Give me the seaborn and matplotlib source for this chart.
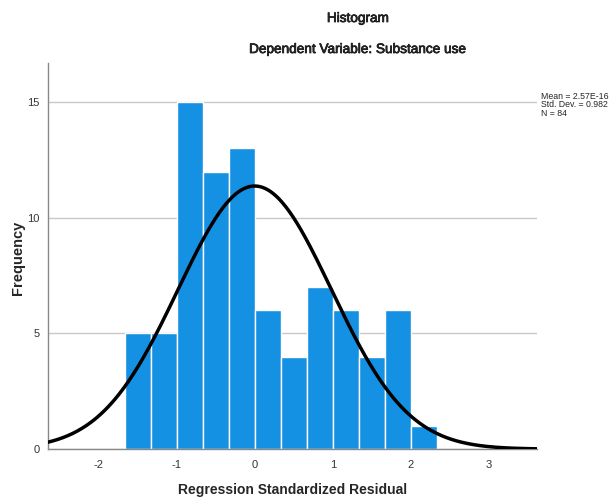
import numpy as np
import pandas as pd
import matplotlib
matplotlib.use("Agg")
import matplotlib.pyplot as plt
import matplotlib.patheffects as pe
import seaborn as sns

# Data
bin_edges = [-5/3, -4/3, -1, -2/3, -1/3, 0, 1/3, 2/3, 1, 4/3, 5/3, 2, 7/3]
counts = [5, 5, 15, 12, 13, 6, 4, 7, 6, 4, 6, 1]
mean_val = 2.57e-16
std_val = 0.982
n_val = 84
x_ticks = [-2, -1, 0, 1, 2, 3]
y_ticks = [0, 5, 10, 15]

sns.set_theme(style="white")
plt.rcParams['font.family'] = ['Liberation Sans', 'DejaVu Sans']

fig = plt.figure(figsize=(6.14, 4.99), dpi=100)
ax = fig.add_axes([0.078, 0.100, 0.797, 0.774])

centers = [(a + b) / 2 for a, b in zip(bin_edges[:-1], bin_edges[1:])]
df = pd.DataFrame({"x": centers, "w": counts})
sns.histplot(data=df, x="x", weights="w", bins=bin_edges, ax=ax,
             color="#1591E4", alpha=1, edgecolor="white", linewidth=1.0, zorder=2)

xmin, xmax = -2.65, 3.62
bw = bin_edges[1] - bin_edges[0]
xs = np.linspace(xmin, xmax, 400)
ys = n_val * bw * np.exp(-0.5 * ((xs - mean_val) / std_val) ** 2) / (std_val * np.sqrt(2 * np.pi))
sns.lineplot(x=xs, y=ys, ax=ax, color="black", linewidth=2.5, zorder=3)

ax.set_xlim(xmin, xmax)
ax.set_ylim(0, 16.7)
ax.set_xticks(x_ticks)
ax.set_yticks(y_ticks)
ax.set_xticklabels([str(t) for t in x_ticks], fontsize=8, color="#333333")
ax.set_yticklabels([str(t) for t in y_ticks], fontsize=8, color="#333333")
ax.tick_params(axis="both", length=0, pad=6)
ax.tick_params(axis="x", pad=8)
ax.yaxis.grid(True, color="#c8c8c8", linewidth=1, zorder=0)
ax.set_axisbelow(True)
for s in ["top", "right"]:
    ax.spines[s].set_visible(False)
for s in ["left", "bottom"]:
    ax.spines[s].set_color("#888888")
    ax.spines[s].set_linewidth(1)

ax.set_xlabel("")
ax.set_ylabel("")
fig.text(293 / 614, 1 - 490 / 499, "Regression Standardized Residual", ha="center", va="center",
         fontsize=10, fontweight="bold")
fig.text(18 / 614, 1 - 258 / 499, "Frequency", ha="center", va="center", rotation=90,
         fontsize=10.5, fontweight="bold")

heavy = [pe.withStroke(linewidth=0.5, foreground="black")]
fig.text(358 / 614, 1 - 18 / 499, "Histogram", ha="center", va="center", fontsize=9.8,
         path_effects=heavy)
fig.text(358 / 614, 1 - 49 / 499, "Dependent Variable: Substance use", ha="center", va="center",
         fontsize=9.8, path_effects=heavy)
fig.text(0.881, 0.79, f"Mean = 2.57E-16\nStd. Dev. = {std_val}\nN = {n_val}",
         ha="left", va="center", fontsize=6.3, linespacing=0.95)

fig.savefig("out.png", dpi=100, facecolor="white")
